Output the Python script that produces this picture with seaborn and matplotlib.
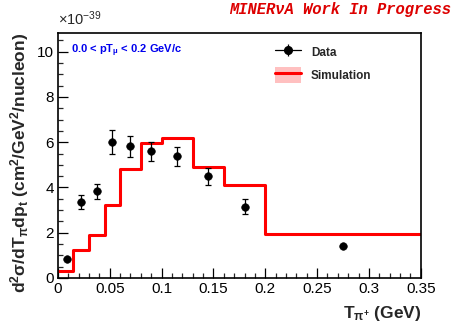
import numpy as np
import pandas as pd
import matplotlib
matplotlib.use("Agg")
import matplotlib.pyplot as plt
import seaborn as sns
from matplotlib.patches import Patch
from matplotlib.lines import Line2D
from matplotlib.ticker import MultipleLocator, FuncFormatter
from matplotlib.legend_handler import HandlerTuple

# Data (units of 1e-39)
bin_edges = [0.0, 0.015, 0.03, 0.045, 0.06, 0.08, 0.10, 0.13, 0.16, 0.20, 0.35]
sim_values = [0.33, 1.22, 1.90, 3.23, 4.80, 5.95, 6.19, 4.92, 4.10, 1.94]
data_x = [0.0085, 0.0225, 0.0375, 0.0525, 0.070, 0.090, 0.115, 0.145, 0.180, 0.275]
data_y = [0.86, 3.35, 3.84, 6.03, 5.82, 5.60, 5.39, 4.50, 3.14, 1.41]
data_err = [0.0, 0.31, 0.33, 0.53, 0.46, 0.43, 0.42, 0.38, 0.33, 0.05]

sns.set_theme(style="ticks")
plt.rcParams['font.family'] = ['Liberation Sans', 'DejaVu Sans']
plt.rcParams['mathtext.fontset'] = 'custom'
plt.rcParams['mathtext.rm'] = 'Liberation Sans'
plt.rcParams['mathtext.bf'] = 'Liberation Sans:bold'
plt.rcParams['mathtext.it'] = 'Liberation Sans:italic'
plt.rcParams['mathtext.default'] = 'regular'

fig = plt.figure(figsize=(4.52, 3.24), dpi=100)
ax = fig.add_axes([0.128, 0.142, 0.803, 0.757])

# simulation step histogram
step_df = pd.DataFrame({"x": bin_edges, "y": sim_values + [sim_values[-1]]})
sns.lineplot(data=step_df, x="x", y="y", drawstyle="steps-post", color="#ff0000",
             linewidth=2.2, ax=ax, legend=False)

# data points
ax.errorbar(data_x, data_y, yerr=data_err, fmt="none", ecolor="black",
            elinewidth=0.9, capsize=2.5, capthick=0.9, zorder=3)
pts = pd.DataFrame({"x": data_x, "y": data_y})
sns.scatterplot(data=pts, x="x", y="y", color="black", s=30, edgecolor="black",
                ax=ax, zorder=4, legend=False)

ax.set_xlim(0, 0.35)
ax.set_ylim(0, 10.84)
ax.xaxis.set_major_locator(MultipleLocator(0.05))
ax.xaxis.set_minor_locator(MultipleLocator(0.01))
ax.yaxis.set_major_locator(MultipleLocator(2))
ax.yaxis.set_minor_locator(MultipleLocator(0.5))
ax.xaxis.set_major_formatter(FuncFormatter(lambda v, p: "0" if abs(v) < 1e-9 else f"{v:g}"))
ax.yaxis.set_major_formatter(FuncFormatter(lambda v, p: f"{v:g}"))
ax.tick_params(which="major", direction="in", length=7, width=0.9, labelsize=11,
               colors="black", pad=3)
ax.tick_params(which="minor", direction="in", length=3.5, width=0.9)
for s in ax.spines.values():
    s.set_linewidth(1.2)
    s.set_color("black")

ax.set_xlabel(r"$\mathbf{T_{\pi^{+}}}$ (GeV)", fontsize=12.5, fontweight="bold",
              loc="right", labelpad=6)
ax.set_ylabel(r"$\mathbf{d^{2}\sigma/dT_{\pi}dp_{t}}$ (cm$\mathbf{^{2}}$/GeV$\mathbf{^{2}}$/nucleon)",
              fontsize=12.5, fontweight="bold", loc="top", labelpad=4)

fig.text(0.128, 0.915, r"$\times$10$^{-39}$", fontsize=10.5, ha="left", va="bottom")
ax.text(0.035, 0.96, r"0.0 < pT$\mathbf{_{\mu}}$ < 0.2 GeV/c", transform=ax.transAxes,
        color="#0000ee", fontsize=8, fontweight="bold", va="top")
fig.text(0.997, 0.995, "MINERνA Work In Progress", fontsize=11.2, color="#dd0000",
         fontweight="bold", style="italic", family=["Liberation Mono", "DejaVu Sans"],
         ha="right", va="top")

# legend
data_handle = (Line2D([], [], color="black", lw=0.9, marker="|", ms=9, mew=0.9),
               Line2D([], [], color="black", marker="o", ms=5.5, linestyle="none"))
sim_handle = (Patch(facecolor="#ffc0c0", edgecolor="none"),
              Line2D([], [], color="#ff0000", lw=2.2))
leg = ax.legend([data_handle, sim_handle], ["Data", "Simulation"],
                handler_map={tuple: HandlerTuple(ndivide=1, pad=0)},
                loc="upper left", bbox_to_anchor=(0.57, 0.995), frameon=False,
                handlelength=2.2, handleheight=1.6, labelspacing=0.65,
                prop={"weight": "bold", "size": 8.5})

fig.savefig("out.png", dpi=100)
